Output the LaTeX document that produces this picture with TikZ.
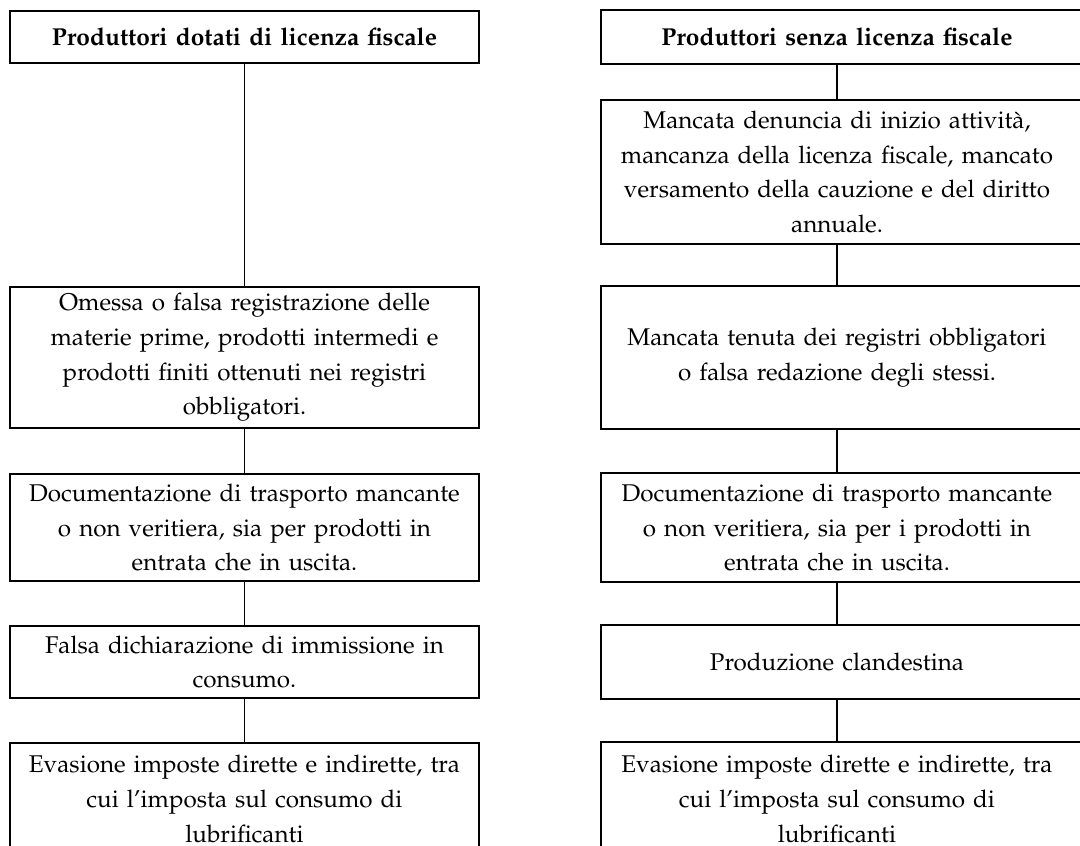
\documentclass[tikz,border=0pt]{standalone}
\usepackage[T1]{fontenc}
\usepackage{mathpazo}
\usetikzlibrary{positioning}

\begin{document}
\begin{tikzpicture}[%
    x=1pt, y=-1pt,
    box/.style = {draw, line width=2.2pt, anchor=north, align=center,
        text width=465pt, minimum width=469pt, inner sep=0pt,
        font=\fontsize{24.2}{34.7}\selectfont},
    rbox/.style = {box, draw=none, minimum width=470pt},
    head/.style = {font=\fontsize{24.5}{34.7}\selectfont\bfseries},
    link/.style = {draw, line width=1.6pt}
]
\useasboundingbox (0,0) rectangle (1080,846);
\clip (0,0) rectangle (1080,846);

% con licenza
\node (l1) [box, head, minimum height=52pt] at (244.5,10) {Produttori dotati di licenza fiscale};
\node (l2) [box, minimum height=141pt] at (244.5,286) {Omessa o falsa registrazione delle\\ materie prime, prodotti intermedi e\\ prodotti finiti ottenuti nei registri\\ obbligatori.};
\node (l3) [box, minimum height=107pt] at (244.5,473) {Documentazione di trasporto mancante\\ o non veritiera, sia per prodotti in\\ entrata che in uscita.};
\node (l4) [box, minimum height=72pt] at (244.5,625) {Falsa dichiarazione di immissione in\\ consumo.};
\node (l5) [box, minimum height=112pt] at (244.5,742) {Evasione imposte dirette e indirette, tra\\ cui l'imposta sul consumo di\\ lubrificanti};

% senza licenza
\node (r1) [rbox, head, minimum height=52pt] at (837,10) {Produttori senza licenza fiscale};
\node (r2) [rbox, minimum height=142pt] at (837,100) {Mancata denuncia di inizio attivit\`a,\\ mancanza della licenza fiscale, mancato\\ versamento della cauzione e del diritto\\ annuale.};
\node (r3) [rbox, minimum height=141pt] at (837,286) {Mancata tenuta dei registri obbligatori\\ o falsa redazione degli stessi.};
\node (r4) [rbox, minimum height=107pt] at (837,473) {Documentazione di trasporto mancante\\ o non veritiera, sia per i prodotti in\\ entrata che in uscita.};
\node (r5) [rbox, minimum height=72pt] at (837,625) {Produzione clandestina};
\node (r6) [rbox, minimum height=112pt] at (837,742) {Evasione imposte dirette e indirette, tra\\ cui l'imposta sul consumo di\\ lubrificanti};

\foreach \i in {1,...,6}
    \draw [line width=2.2pt] (r\i.north west) rectangle ([xshift=40pt]r\i.south east);

\foreach \a/\b in {l1/l2, l2/l3, l3/l4, l4/l5, r1/r2, r2/r3, r3/r4, r4/r5, r5/r6}
    \path [link] (\a.south) -- (\b.north);
\end{tikzpicture}
\end{document}
